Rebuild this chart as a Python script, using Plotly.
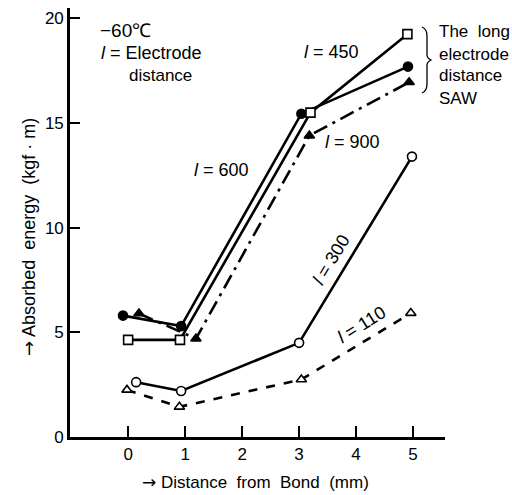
import plotly.graph_objects as go

# ---- data ----
x_450 = [0.0, 0.91, 3.2, 4.9]
y_450 = [4.64, 4.64, 15.5, 19.25]
x_600 = [-0.09, 0.93, 3.04, 4.91]
y_600 = [5.8, 5.3, 15.45, 17.7]
x_900 = [0.19, 1.19, 3.18, 4.93]
y_900 = [5.9, 4.7, 14.4, 16.95]
x_300 = [0.14, 0.93, 3.0, 4.98]
y_300 = [2.62, 2.2, 4.5, 13.4]
x_110 = [-0.02, 0.9, 3.04, 4.96]
y_110 = [2.25, 1.44, 2.75, 5.92]

x_ticks = [0, 1, 2, 3, 4, 5]
y_ticks = [0, 5, 10, 15, 20]

NARROW = "Liberation Sans Narrow, Liberation Sans, Arial, sans-serif"
REG = "Liberation Sans, Arial, sans-serif"
W, H = 512, 495
L, R, T, B = 70, 67, 8, 58

def px(xp, yp):
    return (xp - L) / (W - L - R), (H - B - yp) / (H - T - B)

fig = go.Figure()

def add(xs, ys, dash, symbol, fill, name):
    fig.add_trace(go.Scatter(
        x=xs, y=ys, mode="lines+markers", name=name,
        line=dict(color="black", width=2.6, dash=dash),
        marker=dict(symbol=symbol, size=9, color=fill,
                    line=dict(color="black", width=1.6)),
        showlegend=False, cliponaxis=False))

add(x_110, y_110, "dash", "triangle-up", "white", "l=110")
add(x_300, y_300, "solid", "circle", "white", "l=300")
add(x_900, y_900, "longdashdot", "triangle-up", "black", "l=900")
add(x_600, y_600, "solid", "circle", "black", "l=600")
add(x_450, y_450, "solid", "square", "white", "l=450")

ann = []
def text(xp, yp, s, size=16, angle=0, xanchor="center", family=NARROW):
    xx, yy = px(xp, yp)
    ann.append(dict(x=xx, y=yy, xref="paper", yref="paper", text=s,
                    showarrow=False, textangle=angle, xanchor=xanchor,
                    yanchor="middle", font=dict(family=family, size=size, color="black")))

ARROW = "<span style='font-family:DejaVu Sans'>→</span>"

text(98, 30, "−60℃", size=19, xanchor="left", family=REG)
text(99, 53, "<i>l</i> = Electrode", size=18, xanchor="left")
text(127, 75, "distance", size=17, xanchor="left")
text(331, 52, "<i>l</i> = 450", size=18, family=REG)
text(221, 170, "<i>l</i> = 600", size=18, family=REG)
text(352, 142, "<i>l</i> = 900", size=18, family=REG)
text(331, 260, "<i>l</i> = 300", size=18, angle=-59, family=REG)
text(361, 325, "<i>l</i> = 110", size=18, angle=-32, family=REG)
text(437, 32, "The  long", size=17, xanchor="left")
text(437, 54, "electrode", size=17, xanchor="left")
text(437, 76, "distance", size=17, xanchor="left")
text(437, 98, "SAW", size=17, xanchor="left")
text(255, 482, ARROW + " Distance  from  Bond  (mm)", size=17)
text(28, 237, ARROW + " Absorbed  energy  (kgf · m)", size=18, angle=-90)

# brace
pts = [(422, 27), (427, 29), (427, 36), (427, 55), (427, 58), (431, 60),
       (427, 62), (427, 65), (427, 84), (427, 91), (422, 93)]
pp = [px(a, b) for a, b in pts]
path = (f"M {pp[0][0]},{pp[0][1]} Q {pp[1][0]},{pp[1][1]} {pp[2][0]},{pp[2][1]} "
        f"L {pp[3][0]},{pp[3][1]} Q {pp[4][0]},{pp[4][1]} {pp[5][0]},{pp[5][1]} "
        f"Q {pp[6][0]},{pp[6][1]} {pp[7][0]},{pp[7][1]} L {pp[8][0]},{pp[8][1]} "
        f"Q {pp[9][0]},{pp[9][1]} {pp[10][0]},{pp[10][1]}")

fig.update_layout(
    width=W, height=H,
    margin=dict(l=L, r=R, t=T, b=B),
    paper_bgcolor="white", plot_bgcolor="white",
    annotations=ann,
    shapes=[dict(type="path", path=path, xref="paper", yref="paper",
                 line=dict(color="black", width=1.3))],
    xaxis=dict(range=[-1.02, 5.56], tickvals=x_ticks, ticks="inside", ticklen=11,
               tickwidth=2, tickcolor="black", showline=True, linecolor="black",
               linewidth=2.6, showgrid=False, zeroline=False,
               tickfont=dict(family=REG, size=17, color="black")),
    yaxis=dict(range=[0, 20.5], tickvals=y_ticks, ticks="inside", ticklen=10,
               tickwidth=2, tickcolor="black", showline=True, linecolor="black",
               linewidth=2.6, showgrid=False, zeroline=False, ticklabelstandoff=0,
               tickfont=dict(family=REG, size=17, color="black")),
)

fig.write_html("out.html")
